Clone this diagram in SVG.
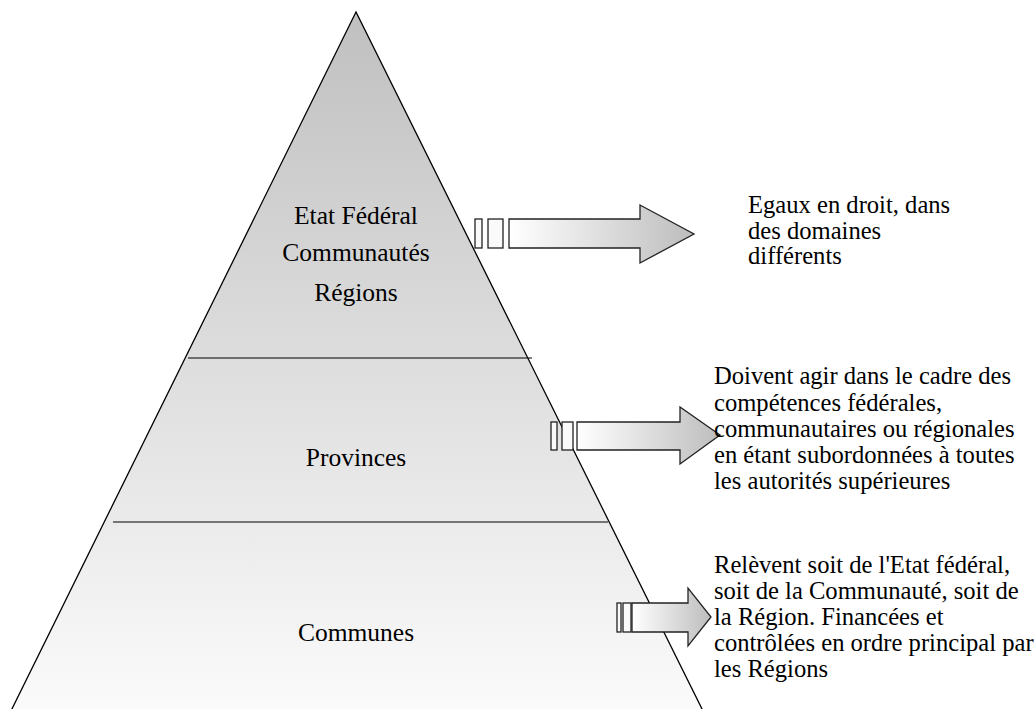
<svg xmlns="http://www.w3.org/2000/svg" width="1035" height="709" viewBox="0 0 1035 709">
<defs>
<linearGradient id="pyr" x1="0" y1="12" x2="0" y2="760" gradientUnits="userSpaceOnUse">
<stop offset="0" stop-color="#c0c0c0"/>
<stop offset="1" stop-color="#ffffff"/>
</linearGradient>
<linearGradient id="arr" x1="0" y1="0" x2="1" y2="0">
<stop offset="0" stop-color="#ffffff"/>
<stop offset="1" stop-color="#bdbdbd"/>
</linearGradient>
<style>
.pt{font-size:25.5px;fill:#000;text-anchor:middle}
.rt{font-size:24.6px;fill:#000}
.ar{fill:url(#arr);stroke:#222;stroke-width:1.3;stroke-linejoin:miter}
.st{fill:#fafafa;stroke:#222;stroke-width:1.3}
.dl{stroke:#000;stroke-width:1.2}
</style>
</defs>
<g id="pyramid">
<polygon points="356,12 6,721 708,721" fill="url(#pyr)" stroke="#000" stroke-width="1.3"/>
</g>
<g id="connectors">
<line class="dl" x1="188" y1="358" x2="532" y2="358"/>
<line class="dl" x1="113" y1="522" x2="608" y2="522"/>
</g>
<g font-family="Liberation Serif, Times New Roman, serif">
<g id="level1">
<text class="pt" x="356" y="224">Etat Fédéral</text>
<text class="pt" x="356" y="261">Communautés</text>
<text class="pt" x="356" y="301">Régions</text>
</g>
<g id="level2">
<text class="pt" x="356" y="466">Provinces</text>
</g>
<g id="level3">
<text class="pt" x="356" y="641">Communes</text>
</g>
</g>
<g id="arrow1">
<rect class="st" x="475" y="219" width="7" height="29"/>
<rect class="st" x="488" y="219" width="15" height="29"/>
<polygon class="ar" points="509,219 640,219 640,205 694,234 640,263 640,248 509,248"/>
</g>
<g id="arrow2">
<rect class="st" x="551" y="422" width="6" height="28"/>
<rect class="st" x="562" y="422" width="11" height="28"/>
<polygon class="ar" points="577,422 680,422 680,407 720,435 680,464 680,450 577,450"/>
</g>
<g id="arrow3">
<rect class="st" x="617" y="603" width="4" height="29"/>
<rect class="st" x="623" y="603" width="8" height="29"/>
<polygon class="ar" points="632,603 688,603 688,588 711,617 688,646 688,632 632,632"/>
</g>
<g font-family="Liberation Serif, Times New Roman, serif">
<g id="text1">
<text class="rt" x="748" y="213">Egaux en droit, dans</text>
<text class="rt" x="748" y="239">des domaines</text>
<text class="rt" x="748" y="264">différents</text>
</g>
<g id="text2">
<text class="rt" x="714" y="384">Doivent agir dans le cadre des</text>
<text class="rt" x="714" y="411">compétences fédérales,</text>
<text class="rt" x="714" y="437">communautaires ou régionales</text>
<text class="rt" x="714" y="463">en étant subordonnées à toutes</text>
<text class="rt" x="714" y="489">les autorités supérieures</text>
</g>
<g id="text3">
<text class="rt" x="714" y="573">Relèvent soit de l'Etat fédéral,</text>
<text class="rt" x="714" y="599">soit de la Communauté, soit de</text>
<text class="rt" x="714" y="625">la Région. Financées et</text>
<text class="rt" x="714" y="651">contrôlées en ordre principal par</text>
<text class="rt" x="714" y="677">les Régions</text>
</g>
</g>
</svg>
